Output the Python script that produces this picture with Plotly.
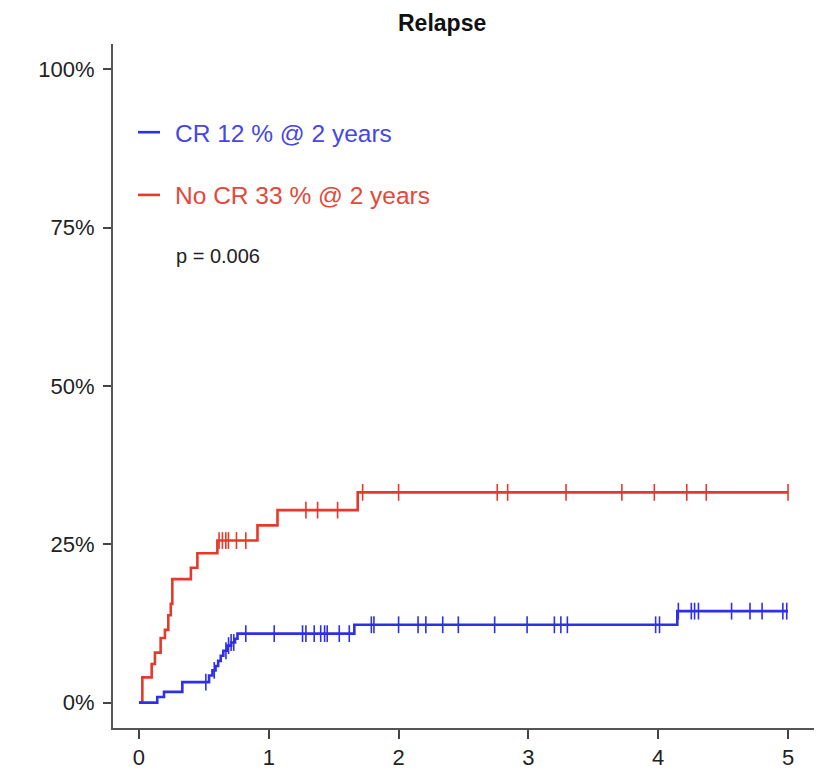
import numpy as np
import plotly.graph_objects as go

# ---------------- data ----------------
# No CR group (red): event times (years) and cumulative incidence of relapse
nocr_times = [0, 0.026, 0.098, 0.123, 0.167, 0.20, 0.226, 0.245, 0.257, 0.40, 0.45,
              0.604, 0.913, 1.067, 1.685, 5.0]
nocr_cuminc = [0, 0.040, 0.061, 0.079, 0.102, 0.115, 0.138, 0.156, 0.195, 0.213, 0.236,
               0.256, 0.280, 0.304, 0.332, 0.332]
nocr_censor = [0.617, 0.643, 0.669, 0.689, 0.751, 0.823, 1.286, 1.376, 1.530, 1.723, 2.0,
               2.76, 2.84, 3.29, 3.72, 3.97, 4.22, 4.37, 5.0]

# CR group (blue)
cr_times = [0, 0.141, 0.193, 0.334, 0.540, 0.566, 0.59, 0.61, 0.63, 0.65, 0.68, 0.71,
            0.74, 0.759, 1.659, 4.147, 5.0]
cr_cuminc = [0, 0.009, 0.017, 0.0325, 0.043, 0.051, 0.058, 0.066, 0.074, 0.082, 0.090,
             0.095, 0.101, 0.109, 0.123, 0.1445, 0.1445]
cr_censor = [0.515, 0.58, 0.67, 0.69, 0.71, 0.73, 0.823, 1.042, 1.26, 1.286, 1.35, 1.40,
             1.43, 1.45, 1.543, 1.62, 1.79, 1.81, 2.0, 2.15, 2.21, 2.34, 2.46, 2.74,
             2.99, 3.20, 3.25, 3.30, 3.98, 4.01, 4.155, 4.255, 4.28, 4.31, 4.565,
             4.707, 4.80, 4.96, 4.99]

x_ticks = [0, 1, 2, 3, 4, 5]
y_ticks = [0, 0.25, 0.5, 0.75, 1.0]
y_ticktext = ["0%", "25%", "50%", "75%", "100%"]

title_text = "<b>Relapse</b>"
legend_cr = "CR 12 % @ 2 years"
legend_nocr = "No CR 33 % @ 2 years"
p_text = "p = 0.006"

BLUE = "#2f2fe8"
RED = "#e6392b"
BLUE_TXT = "#4646e4"
RED_TXT = "#e4483a"
FONT = "Liberation Sans, Arial, Helvetica, sans-serif"

W, H = 828, 782
L, R, T, B = 113, 14, 44, 40


def step_value(times, vals, t):
    idx = np.searchsorted(np.asarray(times), np.asarray(t), side="right") - 1
    return np.asarray(vals)[idx]


def px(xp):
    return (xp - L) / (W - L - R)


def py(yp):
    return (H - B - yp) / (H - T - B)


fig = go.Figure()
for times, vals, cens, col in [(nocr_times, nocr_cuminc, nocr_censor, RED),
                               (cr_times, cr_cuminc, cr_censor, BLUE)]:
    fig.add_trace(go.Scatter(x=times, y=vals, mode="lines",
                             line=dict(color=col, width=2.6, shape="hv"),
                             hoverinfo="skip"))
    fig.add_trace(go.Scatter(x=cens, y=step_value(times, vals, cens), mode="markers",
                             marker=dict(symbol="line-ns-open", size=12, color=col,
                                         line=dict(color=col, width=1.6)),
                             hoverinfo="skip"))

axis_common = dict(showline=True, linecolor="#555555", linewidth=2,
                   ticks="outside", tickcolor="#444444", tickwidth=1.6,
                   showgrid=False, zeroline=False,
                   tickfont=dict(family=FONT, size=22, color="#222222"))

fig.update_xaxes(range=[-0.2, 5.2], tickvals=x_ticks, ticklen=9, **axis_common)
fig.update_yaxes(range=[-0.04, 1.04], tickvals=y_ticks, ticktext=y_ticktext,
                 ticklen=8, ticklabelstandoff=4, **axis_common)

annotations = [
    dict(text=title_text, x=px(442), y=py(23), xref="paper", yref="paper",
         xanchor="center", yanchor="middle", showarrow=False,
         font=dict(family=FONT, size=23, color="#111111")),
    dict(text=legend_cr, x=px(173), y=py(135), xref="paper", yref="paper",
         xanchor="left", yanchor="middle", showarrow=False,
         font=dict(family=FONT, size=24.5, color=BLUE_TXT)),
    dict(text=legend_nocr, x=px(173), y=py(199), xref="paper", yref="paper",
         xanchor="left", yanchor="middle", showarrow=False,
         font=dict(family=FONT, size=24.5, color=RED_TXT)),
    dict(text=p_text, x=px(174), y=py(260), xref="paper", yref="paper",
         xanchor="left", yanchor="middle", showarrow=False,
         font=dict(family=FONT, size=20, color="#222222")),
]
shapes = [
    dict(type="line", xref="paper", yref="paper", x0=px(138), x1=px(160),
         y0=py(134), y1=py(134), line=dict(color=BLUE, width=2.6)),
    dict(type="line", xref="paper", yref="paper", x0=px(138), x1=px(160),
         y0=py(198), y1=py(198), line=dict(color=RED, width=2.6)),
]

fig.update_layout(width=W, height=H, margin=dict(l=L, r=R, t=T, b=B),
                  plot_bgcolor="white", paper_bgcolor="white", showlegend=False,
                  annotations=annotations, shapes=shapes)

fig.write_html("out.html")
